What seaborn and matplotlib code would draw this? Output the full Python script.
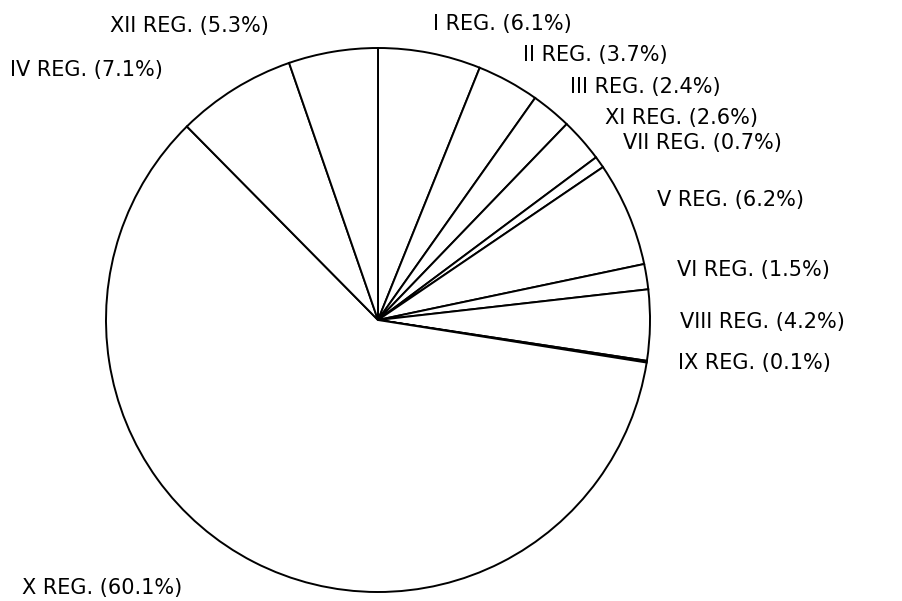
import matplotlib
matplotlib.use("Agg")
import matplotlib.pyplot as plt
import seaborn as sns

# --- DATA (clockwise from 12 o'clock) ---
regions = ['I', 'II', 'III', 'XI', 'VII', 'V', 'VI', 'VIII', 'IX', 'X', 'IV', 'XII']
shares = [6.1, 3.7, 2.4, 2.6, 0.7, 6.2, 1.5, 4.2, 0.1, 60.1, 7.1, 5.3]

# label anchor positions in pixels (left edge, vertical centre), image coords
label_pos = {
    'I': (433, 24), 'II': (523, 55), 'III': (570, 87), 'XI': (605, 118),
    'VII': (623, 143), 'V': (657, 200), 'VI': (677, 270), 'VIII': (680, 322),
    'IX': (678, 363), 'X': (22, 588), 'IV': (10, 70), 'XII': (110, 26),
}

W, H = 903, 601
sns.set_style("white")
plt.rcParams['font.family'] = ['DejaVu Sans']

fig = plt.figure(figsize=(W / 100, H / 100), dpi=100)
ax = fig.add_axes([0, 0, 1, 1])

ax.pie(shares, startangle=90, counterclock=False,
       center=(378, H - 320), radius=272,
       colors=['white'] * len(shares),
       wedgeprops={'edgecolor': 'black', 'linewidth': 1.4})

for reg, val in zip(regions, shares):
    x, y = label_pos[reg]
    ax.text(x, H - y, f"{reg} REG. ({val}%)", ha='left', va='center',
            fontsize=15, color='black')

ax.set_xlim(0, W)
ax.set_ylim(0, H)
ax.set_aspect('equal')
ax.axis('off')

fig.savefig('out.png', dpi=100, facecolor='white')
